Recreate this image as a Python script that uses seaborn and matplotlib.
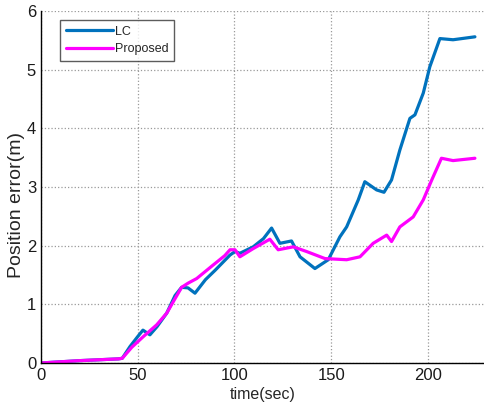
import numpy as np
import pandas as pd
import seaborn as sns
import matplotlib.pyplot as plt

# ======================
# Data
# ======================
lc_t = [0, 20, 40, 42, 46, 50, 52.7, 56.3, 60, 65, 69.3, 72.7, 76, 79.6, 85, 90,
        97.7, 100.3, 102.8, 109.7, 115, 119.2, 123.5, 129.5, 133.9, 141.6, 148.5,
        154.5, 158, 164, 167.4, 173.5, 177.3, 181.2, 185.5, 190.7, 193.3, 197.6,
        201, 206.2, 213, 224.3]
lc_err = [0, 0.04, 0.07, 0.08, 0.28, 0.45, 0.56, 0.48, 0.62, 0.85, 1.15, 1.29,
          1.28, 1.19, 1.42, 1.58, 1.84, 1.90, 1.87, 1.98, 2.12, 2.30, 2.04, 2.08,
          1.81, 1.61, 1.76, 2.15, 2.32, 2.78, 3.09, 2.95, 2.91, 3.12, 3.63, 4.17,
          4.23, 4.60, 5.05, 5.53, 5.51, 5.56]

prop_t = [0, 20, 40, 42, 47, 52.9, 59.8, 65, 69, 72.7, 76, 80.5, 89, 95, 97.7,
          100.3, 102.8, 109.7, 118.3, 122.6, 130.4, 137.3, 146.8, 158, 164.9,
          171.7, 178.7, 181.2, 185.5, 192.4, 197.6, 202, 207, 213, 224.3]
prop_err = [0, 0.04, 0.07, 0.08, 0.27, 0.45, 0.65, 0.85, 1.08, 1.29, 1.36, 1.44,
            1.67, 1.83, 1.93, 1.93, 1.81, 1.95, 2.11, 1.93, 1.98, 1.90, 1.78, 1.76,
            1.81, 2.04, 2.18, 2.07, 2.32, 2.49, 2.78, 3.12, 3.49, 3.45, 3.49]

series_names = ['LC', 'Proposed']
series_colors = ['#0072BD', '#FF00FF']

df = pd.concat([
    pd.DataFrame({'time': lc_t, 'err': lc_err, 'method': 'LC'}),
    pd.DataFrame({'time': prop_t, 'err': prop_err, 'method': 'Proposed'}),
])

# ======================
# Plot
# ======================
sns.set_style('white')
plt.rcParams['font.family'] = ['Liberation Sans', 'DejaVu Sans']

fig = plt.figure(figsize=(4.84, 4.09), dpi=100)
ax = fig.add_axes([0.0847, 0.1125, 0.9153, 0.8606])

sns.lineplot(data=df, x='time', y='err', hue='method', hue_order=series_names,
             palette=series_colors, linewidth=2.3, ax=ax, sort=False,
             estimator=None)

ax.set_xlim(0, 229)
ax.set_ylim(0, 6)
ax.set_xticks([0, 50, 100, 150, 200])
ax.set_yticks([0, 1, 2, 3, 4, 5, 6])
ax.set_xlabel('time(sec)', fontsize=11.5, labelpad=3)
ax.set_ylabel('Position error(m)', fontsize=14)
ax.yaxis.set_label_coords(-0.037, 0.45)
ax.tick_params(axis='both', direction='in', length=4, labelsize=12,
               color='black', labelcolor='#1a1a1a')
ax.grid(True, linestyle=':', color='#999999', linewidth=0.9)

for side in ['top', 'right']:
    ax.spines[side].set_visible(False)
for side in ['left', 'bottom']:
    ax.spines[side].set_color('black')
    ax.spines[side].set_linewidth(1.0)

leg = ax.legend(loc='upper left', bbox_to_anchor=(0.043, 0.974), fontsize=9,
                frameon=True, fancybox=False, handlelength=3.8,
                borderaxespad=0, borderpad=0.45, labelspacing=0.45,
                handletextpad=0.15)
leg.get_frame().set_edgecolor('#333333')
leg.get_frame().set_linewidth(1.0)
for line in leg.get_lines():
    line.set_linewidth(2.3)

fig.savefig('out.png', dpi=100)
